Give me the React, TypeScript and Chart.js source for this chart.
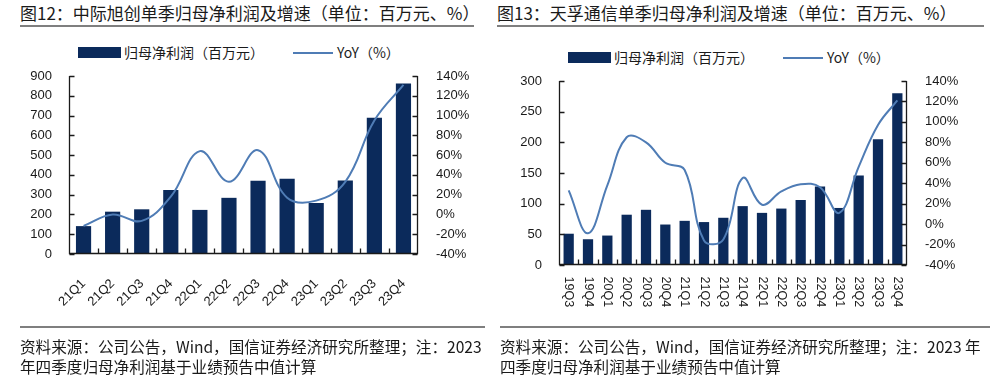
import React, { useEffect, useRef } from "react";
import { Chart, registerables } from "chart.js";

Chart.register(...registerables);

// ---------- data ----------
const leftTitle = "图12：中际旭创单季归母净利润及增速（单位：百万元、%）";
const rightTitle = "图13：天孚通信单季归母净利润及增速（单位：百万元、%）";
const barLabel = "归母净利润（百万元）";
const lineLabel = "YoY（%）";

const leftCategories = ["21Q1", "21Q2", "21Q3", "21Q4", "22Q1", "22Q2", "22Q3", "22Q4", "23Q1", "23Q2", "23Q3", "23Q4"];
const leftProfit = [141, 214, 226, 324, 223, 284, 370, 380, 258, 372, 689, 862];
const leftYoY = [-11.5, 0, -6.5, 18, 64, 33, 65, 17, 14, 33, 95, 131];

const rightCategories = ["19Q3", "19Q4", "20Q1", "20Q2", "20Q3", "20Q4", "21Q1", "21Q2", "21Q3", "21Q4", "22Q1", "22Q2", "22Q3", "22Q4", "23Q1", "23Q2", "23Q3", "23Q4"];
const rightProfit = [51, 42, 48, 82, 90, 66, 72, 70, 77, 96, 85, 92, 106, 128, 93, 146, 205, 280];
const rightYoY = [33, -9, 38, 85, 80, 60, 53, -16, -15, 45, 19, 32, 39, 36, 11, 56, 97, 121];

const leftProfitAxis = { min: 0, max: 900, step: 100 };
const rightProfitAxis = { min: 0, max: 300, step: 50 };
const yoyAxis = { min: -40, max: 140, step: 20 };

const leftNote = ["资料来源：公司公告，Wind，国信证券经济研究所整理；注：2023", "年四季度归母净利润基于业绩预告中值计算"];
const rightNote = ["资料来源：公司公告，Wind，国信证券经济研究所整理；注：2023 年", "四季度归母净利润基于业绩预告中值计算"];

// ---------- style ----------
const BAR_COLOR = "#0b2a5b";
const LINE_COLOR = "#4f7cb5";
const AXIS_COLOR = "#1a1a1a";
const TEXT_COLOR = "#1a1a1a";
const NUM_FONT = "'Liberation Sans', Arial, sans-serif";
const CJK_FONT = "'Noto Sans CJK SC', 'Noto Sans', sans-serif";

const axisDeco = {
  id: "axisDeco",
  afterDatasetsDraw(chart: any, _args: any, opts: any) {
    const { ctx, chartArea: a, scales } = chart;
    const xs = scales.x, ys = scales.y, y1 = scales.y1;
    const L = Math.round(a.left) + 0.5;
    const R = Math.round(a.right) - 0.5;
    const B = Math.round(a.bottom) - 0.5;
    const T = Math.round(a.top);
    ctx.save();
    ctx.strokeStyle = AXIS_COLOR;
    ctx.lineWidth = 1.3;
    ctx.beginPath();
    ctx.moveTo(L, T);
    ctx.lineTo(L, B);
    ctx.lineTo(R, B);
    ctx.lineTo(R, T);
    ys.ticks.forEach((t: any) => {
      const py = Math.round(ys.getPixelForValue(t.value)) + 0.5;
      ctx.moveTo(L, py);
      ctx.lineTo(L + 5, py);
    });
    y1.ticks.forEach((t: any) => {
      const py = Math.round(y1.getPixelForValue(t.value)) + 0.5;
      ctx.moveTo(R - 5, py);
      ctx.lineTo(R, py);
    });
    const n = xs.getLabels().length;
    for (let i = 1; i < n; i++) {
      const px = Math.round((xs.getPixelForValue(i - 1) + xs.getPixelForValue(i)) / 2) + 0.5;
      ctx.moveTo(px, B);
      ctx.lineTo(px, B - 5);
    }
    ctx.stroke();
    if (opts && opts.downLabels) {
      ctx.fillStyle = TEXT_COLOR;
      ctx.font = `12.5px ${NUM_FONT}`;
      ctx.textAlign = "left";
      ctx.textBaseline = "middle";
      xs.getLabels().forEach((lab: string, i: number) => {
        const px = xs.getPixelForValue(i);
        ctx.save();
        ctx.translate(px, B + 12);
        ctx.rotate(Math.PI / 2);
        ctx.fillText(lab, 0, 0);
        ctx.restore();
      });
    }
    ctx.restore();
  },
};

function buildConfig(p: any): any {
  return {
    type: "bar",
    data: {
      labels: p.labels,
      datasets: [
        {
          type: "line",
          label: lineLabel,
          data: p.yoy,
          yAxisID: "y1",
          borderColor: LINE_COLOR,
          backgroundColor: LINE_COLOR,
          borderWidth: 2,
          pointRadius: 0,
          tension: 0.4,
          order: 0,
        },
        {
          type: "bar",
          label: barLabel,
          data: p.bars,
          yAxisID: "y",
          backgroundColor: BAR_COLOR,
          barPercentage: 0.9,
          categoryPercentage: p.catPct,
          order: 1,
        },
      ],
    },
    options: {
      responsive: false,
      animation: false,
      devicePixelRatio: 1,
      layout: { padding: { top: p.padTop, left: 0, right: 0, bottom: 0 } },
      plugins: {
        legend: { display: false },
        tooltip: { enabled: false },
        axisDeco: { downLabels: p.downLabels },
      },
      scales: {
        x: {
          type: "category",
          grid: { display: false },
          border: { display: false },
          ticks: p.downLabels
            ? { display: false }
            : {
                autoSkip: false,
                minRotation: 45,
                maxRotation: 45,
                padding: 14,
                color: TEXT_COLOR,
                font: { size: 13, family: NUM_FONT },
              },
          afterFit: (s: any) => {
            s.height = p.xHeight;
          },
        },
        y: {
          position: "left",
          min: p.axis.min,
          max: p.axis.max,
          grid: { display: false },
          border: { display: false },
          ticks: {
            stepSize: p.axis.step,
            padding: 9,
            color: TEXT_COLOR,
            font: { size: 13, family: NUM_FONT },
          },
          afterFit: (s: any) => {
            s.width = p.yWidth;
          },
        },
        y1: {
          position: "right",
          min: yoyAxis.min,
          max: yoyAxis.max,
          grid: { display: false },
          border: { display: false },
          ticks: {
            stepSize: yoyAxis.step,
            padding: 10,
            color: TEXT_COLOR,
            font: { size: 13, family: NUM_FONT },
            callback: (v: any) => `${v}%`,
          },
          afterFit: (s: any) => {
            s.width = p.y1Width;
          },
        },
      },
    },
    plugins: [axisDeco],
  };
}

function ChartCanvas(props: { left: number; top: number; width: number; height: number; params: any }) {
  const ref = useRef<HTMLCanvasElement>(null);
  useEffect(() => {
    const chart = new Chart(ref.current as HTMLCanvasElement, buildConfig(props.params));
    return () => chart.destroy();
  }, []);
  return (
    <canvas
      ref={ref}
      width={props.width}
      height={props.height}
      style={{ position: "absolute", left: props.left, top: props.top, width: props.width, height: props.height }}
    />
  );
}

function Legend(props: { left: number; top: number }) {
  const { left, top } = props;
  return (
    <>
      <div style={{ position: "absolute", left, top, width: 43, height: 11, background: BAR_COLOR }} />
      <div
        style={{
          position: "absolute",
          left: left + 46,
          top: top - 5,
          fontFamily: CJK_FONT,
          fontSize: 14,
          lineHeight: "20px",
          color: TEXT_COLOR,
          whiteSpace: "nowrap",
        }}
      >
        {barLabel}
      </div>
      <div style={{ position: "absolute", left: left + 215, top: top + 4.5, width: 40, height: 2, background: LINE_COLOR }} />
      <div
        style={{
          position: "absolute",
          left: left + 259,
          top: top - 5,
          fontFamily: CJK_FONT,
          fontSize: 14,
          lineHeight: "20px",
          color: TEXT_COLOR,
          whiteSpace: "nowrap",
        }}
      >
        {lineLabel}
      </div>
    </>
  );
}

function Title(props: { left: number; lineWidth: number; text: string }) {
  return (
    <>
      <div
        style={{
          position: "absolute",
          left: props.left,
          top: 2,
          fontFamily: CJK_FONT,
          fontSize: 17,
          lineHeight: "22px",
          color: TEXT_COLOR,
          whiteSpace: "nowrap",
        }}
      >
        {props.text}
      </div>
      <div style={{ position: "absolute", left: props.left, top: 25, width: props.lineWidth, height: 2, background: "#7f7f7f" }} />
    </>
  );
}

function Note(props: { left: number; lineWidth: number; lines: string[] }) {
  return (
    <>
      <div style={{ position: "absolute", left: props.left, top: 326, width: props.lineWidth, height: 2, background: "#7f7f7f" }} />
      <div
        style={{
          position: "absolute",
          left: props.left,
          top: 336,
          fontFamily: CJK_FONT,
          fontSize: 15.6,
          lineHeight: "20px",
          color: TEXT_COLOR,
          whiteSpace: "nowrap",
        }}
      >
        {props.lines.map((l, i) => (
          <div key={i}>{l}</div>
        ))}
      </div>
    </>
  );
}

export default function App() {
  return (
    <div style={{ position: "fixed", left: 0, top: 0, width: 1005, height: 375, background: "#fff", overflow: "hidden" }}>
      <Title left={20} lineWidth={454} text={leftTitle} />
      <Title left={497} lineWidth={487} text={rightTitle} />
      <Legend left={78} top={47} />
      <Legend left={568} top={52} />
      <ChartCanvas
        left={0}
        top={40}
        width={490}
        height={290}
        params={{
          labels: leftCategories,
          bars: leftProfit,
          yoy: leftYoY,
          axis: leftProfitAxis,
          catPct: 0.58,
          yWidth: 69,
          y1Width: 72,
          padTop: 36,
          xHeight: 76,
          downLabels: false,
        }}
      />
      <ChartCanvas
        left={495}
        top={40}
        width={510}
        height={290}
        params={{
          labels: rightCategories,
          bars: rightProfit,
          yoy: rightYoY,
          axis: rightProfitAxis,
          catPct: 0.59,
          yWidth: 64,
          y1Width: 98,
          padTop: 41,
          xHeight: 65,
          downLabels: true,
        }}
      />
      <Note left={20} lineWidth={465} lines={leftNote} />
      <Note left={500} lineWidth={490} lines={rightNote} />
    </div>
  );
}
